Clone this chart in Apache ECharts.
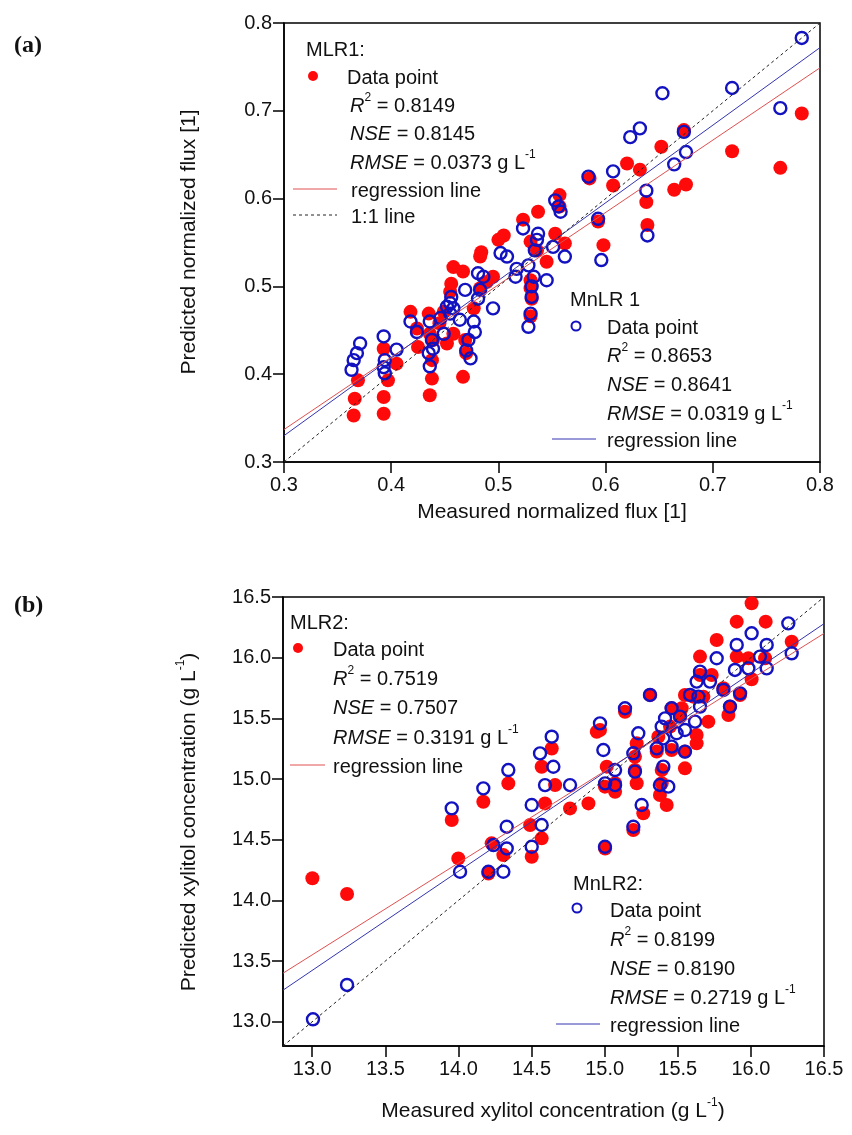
<!DOCTYPE html>
<html>
<head>
<meta charset="utf-8">
<script src="https://cdn.jsdelivr.net/npm/echarts@6/dist/echarts.min.js"></script>
<style>
  html, body { margin: 0; padding: 0; background: #fff; }
  #chart { width: 852px; height: 1135px; }
</style>
</head>
<body>
<div id="chart"></div>
<script>
// ---- Panel (a): normalized flux, measured vs predicted ----
const fluxTicks = [0.3, 0.4, 0.5, 0.6, 0.7, 0.8];

const mlr1Points = [
  [0.620,0.640],[0.607,0.615],[0.585,0.623],[0.557,0.604],[0.537,0.585],[0.523,0.576],
  [0.553,0.560],[0.562,0.549],[0.598,0.547],[0.593,0.574],[0.505,0.558],[0.500,0.553],
  [0.484,0.539],[0.483,0.534],[0.530,0.551],[0.545,0.528],[0.467,0.517],[0.458,0.522],
  [0.495,0.511],[0.530,0.507],[0.530,0.498],[0.531,0.486],[0.530,0.466],[0.477,0.475],
  [0.418,0.471],[0.435,0.469],[0.449,0.471],[0.445,0.458],[0.424,0.452],[0.436,0.446],
  [0.458,0.446],[0.469,0.439],[0.470,0.424],[0.438,0.416],[0.438,0.395],[0.436,0.376],
  [0.467,0.397],[0.393,0.429],[0.405,0.412],[0.397,0.393],[0.393,0.374],[0.393,0.355],
  [0.369,0.393],[0.366,0.372],[0.365,0.353],[0.456,0.503],[0.489,0.505],[0.536,0.541],
  [0.557,0.591],[0.455,0.494],[0.483,0.498],[0.439,0.439],[0.452,0.435],[0.425,0.431],
  [0.783,0.697],[0.763,0.635],[0.718,0.654],[0.673,0.678],[0.675,0.616],[0.664,0.610],
  [0.652,0.659],[0.632,0.633],[0.638,0.596],[0.639,0.570]
];

const mnlr1Points = [
  [0.607,0.631],[0.584,0.625],[0.553,0.598],[0.556,0.591],[0.558,0.585],[0.593,0.577],
  [0.596,0.530],[0.523,0.566],[0.537,0.560],[0.536,0.553],[0.534,0.541],[0.502,0.538],
  [0.508,0.534],[0.562,0.534],[0.551,0.545],[0.517,0.520],[0.516,0.511],[0.528,0.524],
  [0.545,0.507],[0.533,0.511],[0.531,0.500],[0.531,0.488],[0.530,0.469],[0.528,0.454],
  [0.481,0.515],[0.486,0.511],[0.469,0.496],[0.483,0.496],[0.481,0.486],[0.495,0.475],
  [0.456,0.488],[0.455,0.481],[0.458,0.475],[0.464,0.462],[0.477,0.460],[0.478,0.448],
  [0.472,0.439],[0.470,0.427],[0.474,0.418],[0.446,0.464],[0.436,0.460],[0.418,0.460],
  [0.424,0.448],[0.438,0.439],[0.439,0.429],[0.435,0.424],[0.436,0.409],[0.449,0.446],
  [0.393,0.443],[0.405,0.428],[0.394,0.416],[0.393,0.408],[0.394,0.401],[0.371,0.435],
  [0.368,0.424],[0.365,0.416],[0.363,0.405],[0.455,0.469],[0.452,0.477],
  [0.783,0.783],[0.718,0.726],[0.763,0.703],[0.653,0.720],[0.632,0.680],[0.623,0.670],
  [0.673,0.676],[0.675,0.653],[0.664,0.639],[0.638,0.609],[0.639,0.558]
];

const mlr1Fit  = [[0.3, 0.337], [0.8, 0.749]];
const mnlr1Fit = [[0.3, 0.330], [0.8, 0.772]];
const fluxIdentity = [[0.3, 0.3], [0.8, 0.8]];

// ---- Panel (b): xylitol concentration, measured vs predicted ----
const xylTicks = [13.0, 13.5, 14.0, 14.5, 15.0, 15.5, 16.0, 16.5];

const mlr2Points = [
  [16.005,16.448],[15.903,16.297],[16.101,16.297],[15.766,16.146],[16.279,16.132],[15.652,16.009],
  [15.903,16.009],[15.983,15.995],[16.097,15.995],[16.005,15.822],[15.652,15.857],[15.732,15.857],
  [15.812,15.748],[15.926,15.693],[15.857,15.597],[15.846,15.528],[15.310,15.693],[15.139,15.555],
  [15.549,15.693],[15.606,15.679],[15.675,15.679],[15.458,15.583],[15.527,15.583],[15.709,15.473],
  [15.629,15.363],[15.629,15.294],[15.549,15.226],[15.549,15.088],[15.447,15.432],[15.367,15.349],
  [15.458,15.239],[15.356,15.226],[15.219,15.294],[15.207,15.184],[15.014,15.102],[15.207,15.074],
  [15.219,14.965],[15.071,14.965],[15.002,14.937],[15.390,15.074],[15.390,14.965],[15.378,14.868],
  [15.424,14.786],[15.264,14.717],[15.196,14.580],[15.515,15.528],[14.968,15.404],[15.071,14.895],
  [14.638,15.252],[14.946,15.390],[14.569,15.101],[14.661,14.950],[14.341,14.964],[14.170,14.813],
  [13.954,14.662],[14.592,14.799],[14.763,14.758],[14.889,14.799],[14.490,14.621],[14.569,14.511],
  [14.227,14.470],[14.307,14.373],[14.501,14.360],[13.999,14.346],[14.205,14.222],[15.003,14.428],
  [13.001,14.182],[13.238,14.053]
];

const mnlr2Points = [
  [16.256,16.283],[16.005,16.201],[16.108,16.105],[15.903,16.105],[15.766,15.995],[16.062,16.009],
  [16.279,16.036],[16.108,15.912],[15.983,15.912],[15.891,15.899],[15.652,15.885],[15.629,15.803],
  [15.720,15.803],[15.926,15.706],[15.812,15.734],[15.857,15.597],[15.584,15.693],[15.641,15.679],
  [15.652,15.597],[15.310,15.693],[15.139,15.583],[15.458,15.583],[15.515,15.514],[15.413,15.500],
  [15.390,15.432],[15.549,15.404],[15.492,15.377],[15.618,15.473],[15.230,15.377],[15.401,15.335],
  [15.356,15.253],[15.549,15.226],[15.458,15.267],[14.968,15.459],[14.991,15.239],[15.196,15.212],
  [15.207,15.061],[15.071,15.074],[15.401,15.102],[15.378,14.951],[15.435,14.937],[15.253,14.786],
  [15.196,14.607],[15.002,14.442],[15.003,14.964],[15.071,14.950],
  [14.638,15.349],[14.558,15.211],[14.649,15.101],[14.341,15.074],[14.170,14.923],[13.954,14.758],
  [14.592,14.950],[14.763,14.950],[14.501,14.786],[14.330,14.607],[14.569,14.621],[14.239,14.456],
  [14.330,14.428],[14.501,14.442],[14.011,14.236],[14.205,14.236],[14.307,14.236],
  [13.005,13.020],[13.238,13.303]
];

const mlr2Fit  = [[12.8, 13.40], [16.5, 16.20]];
const mnlr2Fit = [[12.8, 13.26], [16.5, 16.28]];
const xylIdentity = [[12.8, 12.8], [16.5, 16.5]];

// ---- styling ----
const FONT = 'Liberation Sans, Arial, sans-serif';
const RED = '#ff0a0a';
const BLUE = '#1212c0';
const RED_LINE = '#e05050';
const BLUE_LINE = '#3434b0';

function valueAxis(gridIndex, min, max, ticks, isY) {
  return {
    type: 'value', gridIndex, min, max,
    axisLine: { show: true, onZero: false, lineStyle: { color: '#000', width: 1.5 } },
    axisTick: { show: true, inside: false, length: 11, customValues: ticks,
                lineStyle: { color: '#000', width: 1.5 } },
    axisLabel: { show: true, customValues: ticks, margin: isY ? 12 : 13,
                 formatter: v => Number(v).toFixed(1),
                 fontFamily: FONT, fontSize: 20, color: '#111' },
    splitLine: { show: false }
  };
}

function scatterRed(idx, data) {
  return { type: 'scatter', xAxisIndex: idx, yAxisIndex: idx, data, z: 2,
           symbol: 'circle', symbolSize: 14, itemStyle: { color: RED, opacity: 1 } };
}
function scatterBlue(idx, data) {
  return { type: 'scatter', xAxisIndex: idx, yAxisIndex: idx, data, z: 3,
           symbol: 'circle', symbolSize: 12,
           itemStyle: { color: 'rgba(255,255,255,0)', borderColor: BLUE, borderWidth: 2.4, opacity: 1 } };
}
function fitLine(idx, data, color, dashed) {
  return { type: 'line', xAxisIndex: idx, yAxisIndex: idx, data, z: 4,
           showSymbol: false, silent: true,
           lineStyle: { color, width: 1, type: dashed ? [3, 3] : 'solid' } };
}

const rich = {
  i: { fontFamily: FONT, fontSize: 20, fontStyle: 'italic', fill: '#111', verticalAlign: 'bottom', lineHeight: 24 },
  s: { fontFamily: FONT, fontSize: 12, fill: '#111', verticalAlign: 'top', lineHeight: 12 },
  n: { fontFamily: FONT, fontSize: 20, fill: '#111', verticalAlign: 'bottom', lineHeight: 24 },
  t: { fontFamily: FONT, fontSize: 21, fill: '#111', verticalAlign: 'bottom', lineHeight: 25 }
};

function txt(x, y, text, opts) {
  opts = opts || {};
  return {
    type: 'text', x, y, rotation: opts.rotation || 0, silent: true,
    style: {
      text, rich, fill: '#111',
      fontFamily: opts.family || FONT, fontSize: opts.size || 20,
      fontWeight: opts.weight || 'normal',
      align: opts.align || 'left', verticalAlign: 'middle'
    }
  };
}
function seg(x1, y1, x2, y2, color, dashed) {
  return { type: 'line', silent: true,
           shape: { x1, y1, x2, y2 },
           style: { stroke: color, lineWidth: 1, lineDash: dashed ? [3, 3] : null } };
}
function dot(x, y) {
  return { type: 'circle', silent: true, shape: { cx: x, cy: y, r: 5 }, style: { fill: RED } };
}
function ring(x, y) {
  return { type: 'circle', silent: true, shape: { cx: x, cy: y, r: 4.5 },
           style: { fill: 'none', stroke: BLUE, lineWidth: 2 } };
}

const legendText = [
  // panel labels
  txt(14, 46, '(a)', { family: 'Liberation Serif, serif', size: 24, weight: 'bold' }),
  txt(14, 606, '(b)', { family: 'Liberation Serif, serif', size: 24, weight: 'bold' }),

  // axis titles
  txt(187, 242, '{t|Predicted normalized flux [1]}', { rotation: Math.PI / 2, align: 'center' }),
  txt(552, 510, '{t|Measured normalized flux [1]}', { align: 'center' }),
  txt(187, 822, '{t|Predicted xylitol concentration (g L}{s|-1}{t|)}', { rotation: Math.PI / 2, align: 'center' }),
  txt(553, 1109, '{t|Measured xylitol concentration (g L}{s|-1}{t|)}', { align: 'center' }),

  // MLR1 block
  txt(306, 48, '{n|MLR1:}'),
  dot(313, 76), txt(347, 76, '{n|Data point}'),
  txt(350, 104, '{i|R}{s|2}{n| = 0.8149}'),
  txt(350, 132, '{i|NSE}{n| = 0.8145}'),
  txt(350, 161, '{i|RMSE}{n| = 0.0373 g L}{s|-1}'),
  seg(293, 189, 337, 189, RED_LINE), txt(351, 189, '{n|regression line}'),
  seg(293, 215, 337, 215, '#222', true), txt(351, 215, '{n|1:1 line}'),

  // MnLR 1 block
  txt(570, 298, '{n|MnLR 1}'),
  ring(576, 326), txt(607, 326, '{n|Data point}'),
  txt(607, 354, '{i|R}{s|2}{n| = 0.8653}'),
  txt(607, 383, '{i|NSE}{n| = 0.8641}'),
  txt(607, 412, '{i|RMSE}{n| = 0.0319 g L}{s|-1}'),
  seg(552, 439, 596, 439, BLUE_LINE), txt(607, 439, '{n|regression line}'),

  // MLR2 block
  txt(290, 621, '{n|MLR2:}'),
  dot(298, 648), txt(333, 648, '{n|Data point}'),
  txt(333, 677, '{i|R}{s|2}{n| = 0.7519}'),
  txt(333, 706, '{i|NSE}{n| = 0.7507}'),
  txt(333, 736, '{i|RMSE}{n| = 0.3191 g L}{s|-1}'),
  seg(290, 765, 325, 765, RED_LINE), txt(333, 765, '{n|regression line}'),

  // MnLR2 block
  txt(573, 882, '{n|MnLR2:}'),
  ring(577, 908), txt(610, 909, '{n|Data point}'),
  txt(610, 938, '{i|R}{s|2}{n| = 0.8199}'),
  txt(610, 967, '{i|NSE}{n| = 0.8190}'),
  txt(610, 996, '{i|RMSE}{n| = 0.2719 g L}{s|-1}'),
  seg(556, 1024, 600, 1024, BLUE_LINE), txt(610, 1024, '{n|regression line}')
];

const chart = echarts.init(document.getElementById('chart'), null, { renderer: 'canvas' });
chart.setOption({
  animation: false,
  backgroundColor: '#fff',
  grid: [
    { left: 284, top: 23, width: 536, height: 439, show: true, borderColor: '#000', borderWidth: 1.5 },
    { left: 283, top: 597, width: 541, height: 449, show: true, borderColor: '#000', borderWidth: 1.5 }
  ],
  xAxis: [
    valueAxis(0, 0.3, 0.8, fluxTicks, false),
    valueAxis(1, 12.8, 16.5, xylTicks, false)
  ],
  yAxis: [
    valueAxis(0, 0.3, 0.8, fluxTicks, true),
    valueAxis(1, 12.8, 16.5, xylTicks, true)
  ],
  series: [
    scatterRed(0, mlr1Points),
    scatterBlue(0, mnlr1Points),
    fitLine(0, mlr1Fit, RED_LINE, false),
    fitLine(0, mnlr1Fit, BLUE_LINE, false),
    fitLine(0, fluxIdentity, '#222', true),
    scatterRed(1, mlr2Points),
    scatterBlue(1, mnlr2Points),
    fitLine(1, mlr2Fit, RED_LINE, false),
    fitLine(1, mnlr2Fit, BLUE_LINE, false),
    fitLine(1, xylIdentity, '#222', true)
  ],
  graphic: { elements: legendText }
});
</script>
</body>
</html>
